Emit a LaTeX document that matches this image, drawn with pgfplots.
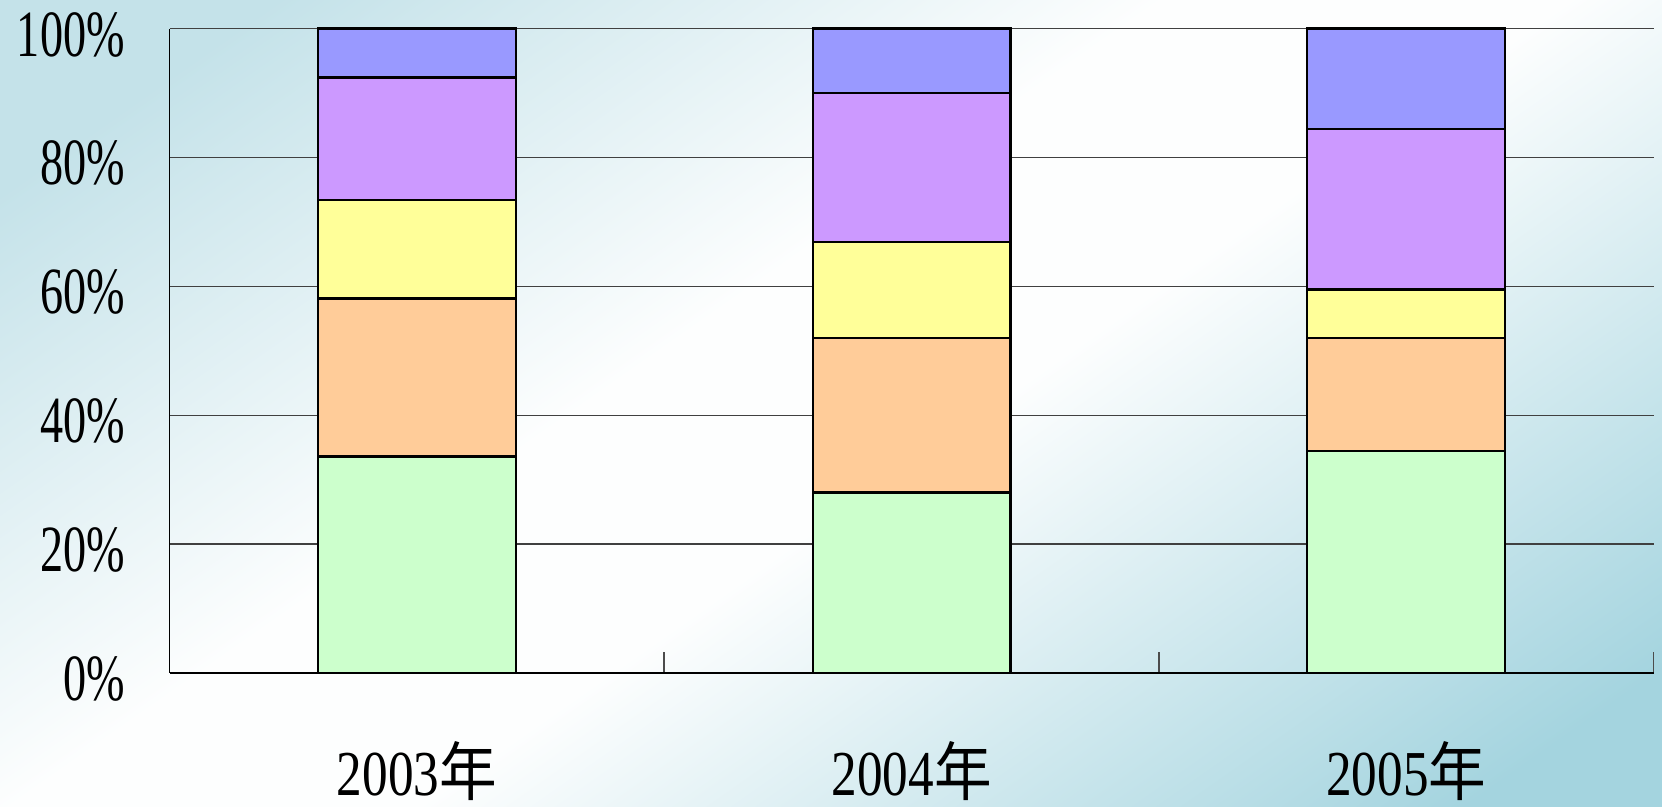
\documentclass[border=0pt]{standalone}
\usepackage{pgfplots}
\pgfplotsset{compat=1.18}
\usepackage{fontspec}
\setmainfont{Liberation Serif}
\newfontfamily\lab[FakeStretch=0.70]{Liberation Serif}
\newfontfamily\labx[FakeStretch=0.80]{Liberation Serif}
\newfontfamily\cjk[FakeStretch=0.9]{Noto Sans CJK SC}
\definecolor{cgreen}{HTML}{CCFFCC}
\definecolor{corange}{HTML}{FFCC99}
\definecolor{cyellow}{HTML}{FFFF99}
\definecolor{cpurple}{HTML}{CC99FF}
\definecolor{cblue}{HTML}{9999FF}
\definecolor{bgA}{HTML}{C4E2E9}
\definecolor{bgB}{HTML}{FDFEFE}
\definecolor{bgC}{HTML}{A4D4DF}
\pgfdeclarehorizontalshading{bgshade}{100bp}{color(0bp)=(bgA); color(22bp)=(bgA); color(44bp)=(bgB); color(54bp)=(bgB); color(80bp)=(bgC); color(100bp)=(bgC)}
\begin{document}
\begin{tikzpicture}
\path[use as bounding box] (0,0) rectangle (831pt,403.5pt);
\shade[shading=bgshade, shading angle=-55] (0,0) rectangle (831pt,403.5pt);
\begin{axis}[
  at={(84.8pt,67pt)}, anchor=south west,
  scale only axis, width=742pt, height=322.2pt,
  ybar stacked, bar width=0.4,
  xmin=-0.5, xmax=2.5, ymin=0, ymax=100,
  axis x line=bottom, axis y line=left,
  axis line style={-, black, line width=0.8pt},
  xtick={0.5,1.5,2.5}, xticklabels={},
  major x tick style={draw=gray!60!black, line width=0.8pt},
  xtick align=inside, major tick length=10.5pt,
  extra x ticks={0,1,2},
  extra x tick labels={{\labx 2003\cjk 年},{\labx 2004\cjk 年},{\labx 2005\cjk 年}},
  extra x tick style={major tick length=0pt, grid=none},
  ytick={0,20,40,60,80,100},
  yticklabels={0\%,20\%,40\%,60\%,80\%,100\%},
  major y tick style={draw=none},
  ymajorgrids, grid style={black!75, line width=0.7pt},
  yticklabel style={font=\fontsize{33}{33}\selectfont\lab, anchor=east, inner sep=0pt, xshift=-17pt, yshift=-3pt},
  xticklabel style={font=\fontsize{32}{32}\selectfont, anchor=north, inner sep=0pt, yshift=-34pt},
  every axis plot/.append style={draw=black, line width=1.1pt},
  clip=false,
]
\addplot[fill=cgreen] coordinates {(0,33.6) (1,28.0) (2,34.4)};
\addplot[fill=corange] coordinates {(0,24.5) (1,24.0) (2,17.6)};
\addplot[fill=cyellow] coordinates {(0,15.3) (1,14.9) (2,7.5)};
\addplot[fill=cpurple] coordinates {(0,19.0) (1,23.1) (2,24.9)};
\addplot[fill=cblue] coordinates {(0,7.6) (1,10.0) (2,15.6)};
\end{axis}
\end{tikzpicture}
\end{document}
